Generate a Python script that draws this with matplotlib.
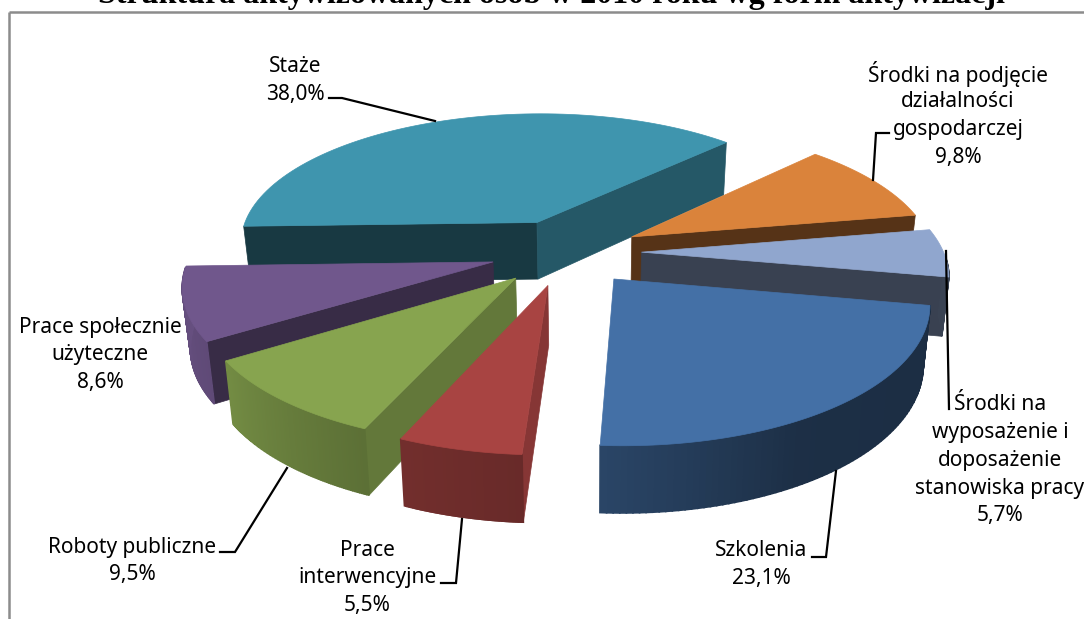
import numpy as np
import matplotlib
matplotlib.use("Agg")
import matplotlib.pyplot as plt
from matplotlib.colors import to_rgb
from matplotlib.patches import Polygon

# clockwise from the right hand side
categories = ["Szkolenia", "Prace\ninterwencyjne", "Roboty publiczne",
              "Prace społecznie\nużyteczne", "Staże",
              "Środki na podjęcie\ndziałalności\ngospodarczej",
              "Środki na\nwyposażenie i\ndoposażenie\nstanowiska pracy"]
values = [23.1, 5.5, 9.5, 8.6, 38.0, 9.8, 5.7]
colors = ["#4470A6", "#A84442", "#87A44F", "#70578C", "#3F95AE", "#DA833B", "#90A6CE"]
label_pos = [(761, 551), (367, 550), (132, 547), (100, 327), (295, 67), (958, 74), (1000, 405)]
leaders = [[(812, 557), (826, 557), (836, 471)],
           [(441, 583), (456, 583), (462, 519)],
           [(220, 552), (235, 552), (287, 468)],
           [],
           [(329, 98), (342, 98), (435, 121)],
           [(889, 133), (876, 133), (873, 180)],
           [(946, 251), (949, 409)]]
title = "Struktura aktywizowanych osób w 2010 roku wg form aktywizacji"

# fake 3d camera, in pixels
cx, cy = 566, 252
R, B = 302, 133
persp = 0.149
depth = 58
converge = 0.02
explode = 0.25
start = 10.5


def project(u, v, z=0.0):
    s = 1 / (1 - persp * v)
    x = cx + R * u * s
    x = x + (590 - x) * converge * z
    return x, cy + B * v * s + depth * z * s ** 0.75


def shade(col, f):
    return tuple(c * f for c in to_rgb(col))


def wall_bright(a):
    a = a % 360
    return np.interp(a, [0, 60, 93, 113, 147, 180], [0.4, 0.42, 0.62, 0.68, 0.85, 0.92])


def faces_us(tip, edge, inner):
    # a cut face shows when the wedge lies above its top edge on screen
    ex, ey = edge[0] - tip[0], edge[1] - tip[1]
    side = ex * (inner[1] - tip[1]) - ey * (inner[0] - tip[0])
    return side * ex < 0


fig = plt.figure(figsize=(10.84, 6.19), dpi=100)
ax = fig.add_axes([0, 0, 1, 1])
ax.set_xlim(0, 1084)
ax.set_ylim(619, 0)
ax.axis("off")

# build the slices
angles = 360 * np.array(values) / sum(values)
a0s = start + np.concatenate([[0], np.cumsum(angles)[:-1]])
mids = a0s + angles / 2
order = np.argsort(np.sin(np.radians(mids)))

for i in order:
    a0, a1 = a0s[i], a0s[i] + angles[i]
    col = colors[i]
    ox = explode * np.cos(np.radians(mids[i]))
    oy = explode * np.sin(np.radians(mids[i]))
    th = np.radians(np.linspace(a0, a1, 80))
    us = ox + np.cos(th)
    vs = oy + np.sin(th)
    tip = project(ox, oy)
    inner = project(us[40], vs[40])

    # flat cut faces
    for a, normal in [(a0, a0 - 90), (a1, a1 + 90)]:
        eu, ev = ox + np.cos(np.radians(a)), oy + np.sin(np.radians(a))
        if not faces_us(tip, project(eu, ev), inner):
            continue
        nx = np.cos(np.radians(normal))
        f = 0.38 + 0.42 * nx ** 2
        quad = [tip, project(eu, ev), project(eu, ev, 1), project(ox, oy, 1)]
        ax.add_patch(Polygon(quad, closed=True, fc=shade(col, f), ec=shade(col, f), lw=0.5))

    # outer wall, only the part turned towards us
    for k in range(len(th) - 1):
        if np.sin(th[k]) < 0.04 and np.sin(th[k + 1]) < 0.04:
            continue
        quad = [project(us[k], vs[k]), project(us[k + 1], vs[k + 1]),
                project(us[k + 1], vs[k + 1], 1), project(us[k], vs[k], 1)]
        f = wall_bright(np.degrees(th[k]))
        ax.add_patch(Polygon(quad, closed=True, fc=shade(col, f), ec=shade(col, f), lw=1.2))

    # top
    top = [tip] + [project(u, v) for u, v in zip(us, vs)]
    ax.add_patch(Polygon(top, closed=True, fc=col, ec=col, lw=0.5))

# frame of the embedded chart
ax.plot([8.5, 8.5], [619, 11.5], color="#8c8c8c", lw=1.8, solid_capstyle="butt")
ax.plot([8.5, 1084], [11.5, 11.5], color="#8c8c8c", lw=1.8, solid_capstyle="butt")

ax.text(551, 3, title, ha="center", va="baseline", family="Liberation Serif",
        weight="bold", fontsize=23, color="black")

for name, val, (x, y), pts in zip(categories, values, label_pos, leaders):
    lines = name.split("\n") + [f"{val:.1f}%".replace(".", ",")]
    for n, line in enumerate(lines):
        ax.text(x, y + n * 27.7, line, ha="center", va="center", family="Noto Sans",
                fontsize=15, color="black")
    if pts:
        ax.plot(*zip(*pts), color="black", lw=1.6, solid_joinstyle="miter")

fig.savefig("out.png", dpi=100)
